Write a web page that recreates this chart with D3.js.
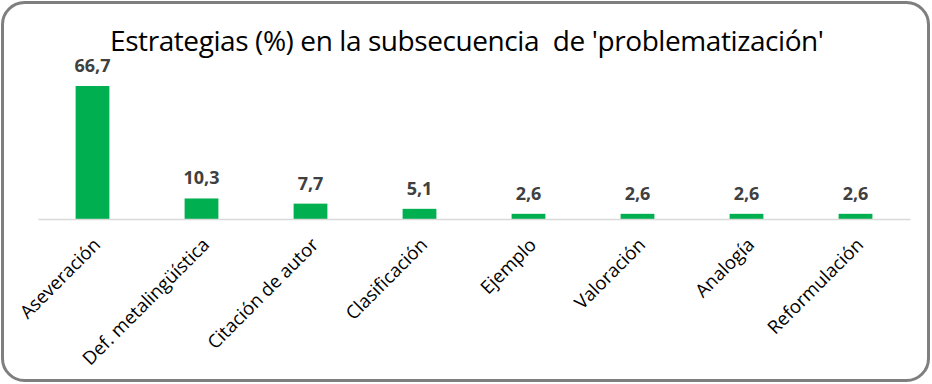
<!DOCTYPE html>
<html>
<head>
<meta charset="utf-8">
<script src="https://cdn.jsdelivr.net/npm/d3@7"></script>
<style>
  body { margin: 0; background: #fff; }
  svg { display: block; font-family: "Open Sans", "Liberation Sans", sans-serif; }
</style>
</head>
<body>
<div id="chart"></div>
<script>
const categories = ["Aseveración", "Def. metalingüística", "Citación de autor", "Clasificación",
    "Ejemplo", "Valoración", "Analogía", "Reformulación"];
const values = [66.7, 10.3, 7.7, 5.1, 2.6, 2.6, 2.6, 2.6];
const titleText = "Estrategias (%) en la subsecuencia  de 'problematización'";

render();

function render() {
    const width = 932, height = 384;
    const margin = { top: 86, bottom: 165, left: 38, right: 22 };

    const svg = d3.select('#chart').append('svg')
        .attr('width', width)
        .attr('height', height);

    // frame
    svg.append('rect')
        .attr('x', 2.5).attr('y', 2.5)
        .attr('width', width - 6).attr('height', height - 6)
        .attr('rx', 22).attr('ry', 22)
        .attr('fill', '#fff')
        .attr('stroke', '#7f7f7f')
        .attr('stroke-width', 3);

    svg.append('text')
        .attr('x', 467).attr('y', 51)
        .attr('text-anchor', 'middle')
        .style('font-size', '28px')
        .style('white-space', 'pre')
        .style('fill', '#000')
        .attr('textLength', 714)
        .text(titleText);

    const x = d3.scaleBand()
        .domain(categories)
        .range([margin.left, width - margin.right])
        .paddingInner(0.69)
        .paddingOuter(0.345);

    const y = d3.scaleLinear()
        .domain([0, d3.max(values)])
        .range([height - margin.bottom, margin.top]);

    const data = categories.map((c, i) => ({ name: c, value: values[i] }));

    const g = svg.append('g');

    g.selectAll('rect.bar')
        .data(data)
        .join('rect')
        .attr('class', 'bar')
        .attr('x', d => x(d.name))
        .attr('y', d => y(d.value))
        .attr('width', x.bandwidth())
        .attr('height', d => y(0) - y(d.value))
        .attr('fill', '#00b050');

    // axis line
    const xAxis = d3.axisBottom(x).tickSize(0).tickPadding(0);
    const ax = svg.append('g')
        .attr('transform', `translate(0,${y(0)})`)
        .call(xAxis);
    ax.select('.domain').attr('stroke', '#d9d9d9').attr('stroke-width', 1.5);
    ax.selectAll('.tick text')
        .attr('text-anchor', 'end')
        .attr('dy', null)
        .attr('transform', 'translate(9,27) rotate(-45)')
        .style('font-size', '18.5px')
        .style('font-family', '"Open Sans", sans-serif')
        .style('fill', '#000');

    g.selectAll('text.val')
        .data(data)
        .join('text')
        .attr('class', 'val')
        .attr('x', d => x(d.name) + x.bandwidth() / 2)
        .attr('y', d => y(d.value) - 14)
        .attr('text-anchor', 'middle')
        .style('font-size', '18px')
        .style('font-weight', 'bold')
        .style('fill', '#404040')
        .text(d => String(d.value).replace('.', ','));
}
</script>
</body>
</html>
